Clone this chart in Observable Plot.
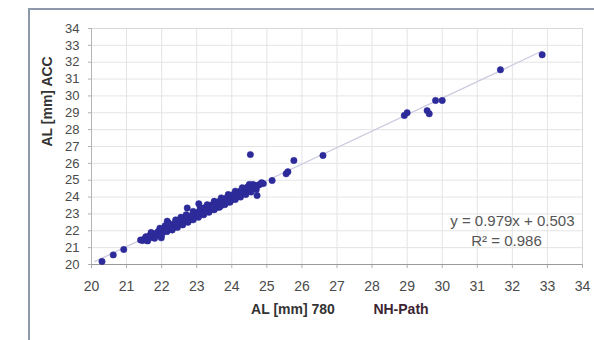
<!DOCTYPE html>
<html>
<head>
<meta charset="utf-8">
<script src="https://cdn.jsdelivr.net/npm/d3@7"></script>
<script src="https://cdn.jsdelivr.net/npm/@observablehq/plot@0.6"></script>
<style>
  html, body { margin: 0; padding: 0; background: #fff; }
  #wrap { position: relative; width: 594px; height: 340px; overflow: hidden; }
  #border { position: absolute; left: 28px; top: 8px; width: 580px; height: 340px;
            border-left: 2px solid #8d98aa; border-top: 2px solid #8d98aa; box-sizing: border-box; }
  #chart { position: absolute; left: 0; top: 0; }
</style>
</head>
<body>
<div id="wrap"><div id="border"></div><div id="chart"></div></div>
<script>
const xTicks = [20,21,22,23,24,25,26,27,28,29,30,31,32,33,34];
const yTicks = [20,21,22,23,24,25,26,27,28,29,30,31,32,33,34];
const xLabel = "AL [mm] 780";
const xLabel2 = "NH-Path";
const yLabel = "AL [mm] ACC";
const eqText = "y = 0.979x + 0.503";
const r2Text = "R² = 0.986";
const trendX = [20.1, 32.85];
const slope = 0.979, intercept = 0.503;

const xs = [20.3,20.62,20.92,21.4,21.46,21.5,21.6,21.65,21.7,21.75,21.8,21.85,21.9,21.9,21.95,21.99,22.0,22.05,22.1,22.1,22.16,22.2,22.2,22.25,22.3,22.3,22.35,22.4,22.4,22.45,22.5,22.5,22.55,22.6,22.6,22.65,22.7,22.7,22.73,22.75,22.8,22.8,22.85,22.9,22.9,22.95,23.0,23.0,23.05,23.06,23.1,23.1,23.15,23.2,23.2,23.25,23.3,23.3,23.35,23.4,23.4,23.45,23.5,23.5,23.55,23.6,23.6,23.65,23.7,23.7,23.75,23.8,23.8,23.85,23.9,23.9,23.95,24.0,24.0,24.05,24.1,24.1,24.15,24.2,24.2,24.25,24.3,24.35,24.4,24.4,24.45,24.5,24.5,24.55,24.6,24.65,24.72,24.8,24.9,25.15,25.55,25.6,25.77,24.53,26.6,28.92,29.0,29.57,29.63,29.81,30.0,31.66,32.85,
  21.55,21.75,22.05,22.25,22.45,22.65,22.85,23.05,23.25,23.45,23.65,23.85,24.05,24.25,24.45,24.6,24.75,
  21.6,21.8,22.0,22.15,22.3,22.45,22.6,22.75,22.9,23.05,23.2,23.35,23.5,23.65,23.8,23.95,24.1,24.25,24.4,24.55,24.7,
  21.7,21.95,22.2,22.4,22.55,22.7,22.9,23.1,23.3,23.5,23.7,23.9,24.1,24.3,24.5,24.85];
const ys = [20.18,20.57,20.89,21.45,21.42,21.5,21.55,21.7,21.6,21.8,21.7,21.85,21.75,21.95,22.0,21.58,21.9,22.1,22.0,22.3,22.57,22.1,22.25,22.2,22.35,22.15,22.4,22.3,22.5,22.45,22.4,22.6,22.55,22.5,22.7,22.6,22.75,22.55,23.35,22.7,22.85,22.65,22.8,22.9,22.75,22.95,22.85,23.0,23.1,23.6,22.95,23.15,23.05,23.2,23.35,23.1,23.3,23.45,23.2,23.4,23.25,23.5,23.35,23.55,23.45,23.6,23.4,23.55,23.7,23.5,23.65,23.8,23.6,23.75,23.9,23.7,23.85,24.0,23.85,24.1,23.95,24.2,24.05,24.25,24.1,24.35,24.2,24.4,24.5,24.3,24.55,24.6,24.4,24.65,24.55,24.7,24.09,24.75,24.8,24.98,25.38,25.5,26.17,26.52,26.47,28.84,29.0,29.13,28.94,29.73,29.73,31.55,32.44,
  21.65,21.8,22.05,22.3,22.5,22.7,22.9,23.05,23.3,23.55,23.75,23.95,24.15,24.35,24.6,24.75,24.7,
  21.4,21.55,21.75,21.95,22.05,22.2,22.35,22.5,22.65,22.8,22.95,23.1,23.25,23.4,23.55,23.7,23.85,24.0,24.15,24.3,24.45,
  21.9,22.15,22.45,22.65,22.8,22.95,23.15,23.35,23.55,23.75,23.95,24.15,24.35,24.55,24.75,24.85];

const pts = xs.map((x, i) => ({x, y: ys[i]}));
const trend = trendX.map(x => ({x, y: slope * x + intercept}));

const font = "Liberation Sans, Arial, sans-serif";
const chart = Plot.plot({
  width: 594,
  height: 340,
  marginLeft: 91,
  marginRight: 12,
  marginTop: 28,
  marginBottom: 76,
  style: {fontFamily: font, fontSize: "14px", color: "#4a4a4a", background: "transparent"},
  x: {domain: [20, 34], ticks: xTicks},
  y: {domain: [20, 34], ticks: yTicks},
  marks: [
    Plot.gridX(xTicks, {stroke: "#e4e4e4", strokeOpacity: 1}),
    Plot.gridY(yTicks, {stroke: "#e4e4e4", strokeOpacity: 1}),
    Plot.frame({stroke: "#d8d8d8"}),
    Plot.axisX({ticks: xTicks, tickSize: 4, tickPadding: 13, label: null, stroke: "#b0b0b0", fontSize: 14}),
    Plot.axisY({ticks: yTicks, tickSize: 3, tickPadding: 9, label: null, stroke: "#b0b0b0", fontSize: 13}),
    Plot.ruleY([20], {stroke: "#9a9a9a"}),
    Plot.ruleX([20], {stroke: "#b5b5b5"}),
    Plot.line(trend, {x: "x", y: "y", stroke: "#cacadf", strokeWidth: 1.3}),
    Plot.dot(pts, {x: "x", y: "y", r: 3.2, fill: "#2d2a9a", stroke: "#2d2a9a", strokeWidth: 0.5}),
    Plot.text([yLabel], {frameAnchor: "left", dx: -44, rotate: -90, fontWeight: "bold", fontSize: 14, fill: "#333"}),
    Plot.text([xLabel], {frameAnchor: "bottom", dx: -44, dy: 49, fontWeight: "bold", fontSize: 14, fill: "#333"}),
    Plot.text([xLabel2], {frameAnchor: "bottom", dx: 64, dy: 49, fontWeight: "bold", fontSize: 14, fill: "#3d2432"}),
    Plot.text([eqText], {frameAnchor: "bottom-right", dx: -8, dy: -39, textAnchor: "end", fontSize: 15, fill: "#555"}),
    Plot.text([r2Text], {frameAnchor: "bottom-right", dx: -76, dy: -19, textAnchor: "middle", fontSize: 15, fill: "#555"})
  ]
});
document.getElementById("chart").appendChild(chart);
</script>
</body>
</html>
